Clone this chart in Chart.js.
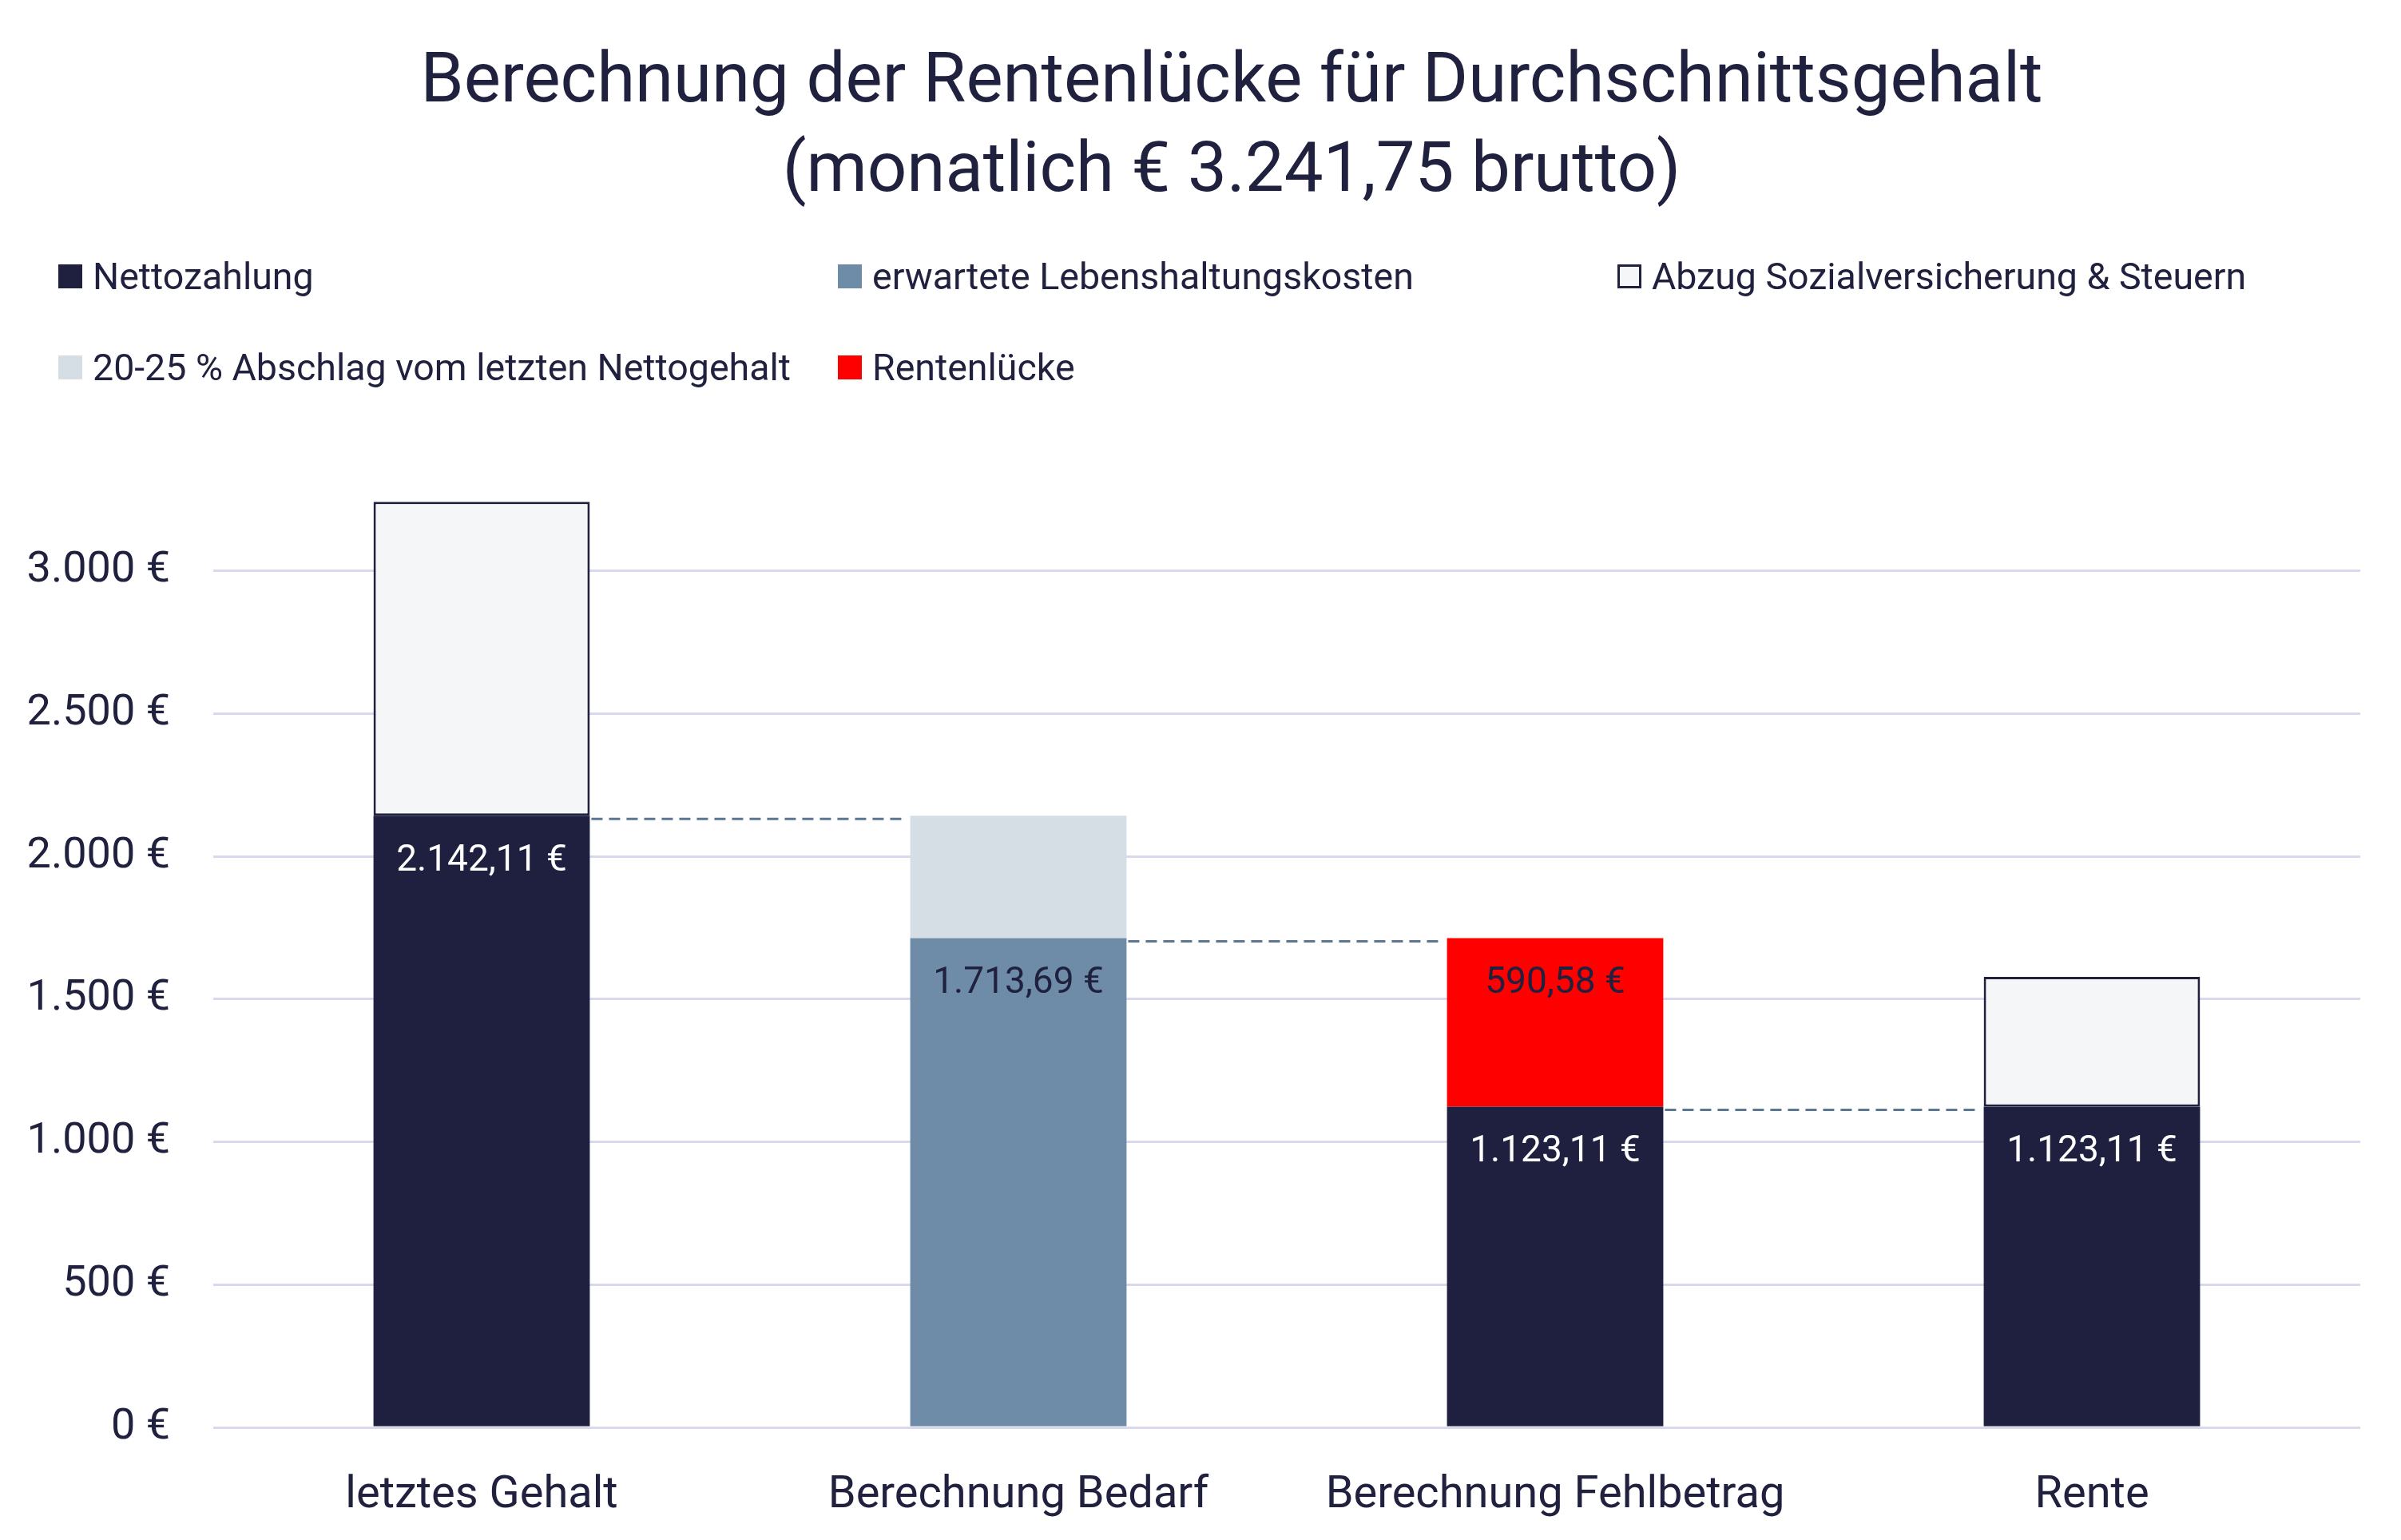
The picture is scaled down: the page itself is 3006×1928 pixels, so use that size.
<!DOCTYPE html>
<html lang="de">
<head>
<meta charset="utf-8">
<script src="https://cdn.jsdelivr.net/npm/chart.js@4/dist/chart.umd.min.js"></script>
<style>
  html, body { margin: 0; padding: 0; background: #ffffff; }
  #wrap { position: relative; width: 3006px; height: 1928px; }
  #title { position: absolute; left: 0; top: 41px; width: 3084px; text-align: center; font-family: Roboto, sans-serif; font-size: 87px; line-height: 112px; color: #20213f; white-space: nowrap; }
  #legend { position: absolute; left: 0; top: 0; width: 3006px; height: 0; font-family: Roboto, sans-serif; font-size: 46.5px; color: #20213f; }
  .item { position: absolute; display: flex; align-items: center; white-space: nowrap; height: 60px; }
  .box { width: 30px; height: 30px; margin-right: 13px; box-sizing: border-box; }
</style>
</head>
<body>
<div id="wrap">
  <canvas id="c"></canvas>
  <div id="title"></div>
  <div id="legend"></div>
</div>
<script>
// ---- data ----
const titleLines = ["Berechnung der Rentenlücke für Durchschnittsgehalt", "(monatlich € 3.241,75 brutto)"];
const categories = ["letztes Gehalt", "Berechnung Bedarf", "Berechnung Fehlbetrag", "Rente"];
const nettozahlung = [2142.11, null, 1123.11, 1123.11];
const lebenshaltungskosten = [null, 1713.69, null, null];
const abzugSozial = [1099.64, null, null, 455];
const abschlag = [null, 428.42, null, null];
const rentenluecke = [null, null, 590.58, null];
const yTicks = [0, 500, 1000, 1500, 2000, 2500, 3000];
const seriesNames = ["Nettozahlung", "erwartete Lebenshaltungskosten", "Abzug Sozialversicherung & Steuern", "20-25 % Abschlag vom letzten Nettogehalt", "Rentenlücke"];

const C_DARK = "#1f2040", C_BLUE = "#6e8ba7", C_WHITE = "#f5f6f8", C_LIGHT = "#d6dee5", C_RED = "#ff0000";
const TXT = "#20213f";

function fmtEuro(v) {
  return v.toLocaleString("de-DE", { minimumFractionDigits: 2, maximumFractionDigits: 2 }) + " €";
}
function fmtTick(v) {
  return v.toLocaleString("de-DE") + " €";
}

// labels shown inside segments: dataset index -> text colour
const labelColors = { 0: "#ffffff", 1: TXT, 4: TXT };

const segLabelPlugin = {
  id: "segLabels",
  afterDatasetsDraw(chart) {
    const ctx = chart.ctx;
    ctx.save();
    ctx.font = "46px Roboto";
    ctx.textAlign = "center";
    ctx.textBaseline = "middle";
    Object.keys(labelColors).forEach(k => {
      const di = +k;
      const meta = chart.getDatasetMeta(di);
      const data = chart.data.datasets[di].data;
      meta.data.forEach((el, i) => {
        if (data[i] == null) return;
        ctx.fillStyle = labelColors[di];
        ctx.fillText(fmtEuro(data[i]), el.x, el.y + 57);
      });
    });
    ctx.restore();
  }
};

// dashed connectors from the top of each bar's base segment to the next bar
const connectorPlugin = {
  id: "connectors",
  afterDatasetsDraw(chart) {
    const ctx = chart.ctx;
    const baseSets = [0, 1];
    const n = chart.data.labels.length;
    ctx.save();
    ctx.strokeStyle = "#5b7794";
    ctx.lineWidth = 3;
    ctx.setLineDash([14, 8]);
    for (let i = 0; i < n - 1; i++) {
      let el = null;
      for (const d of baseSets) {
        if (chart.data.datasets[d].data[i] != null) { el = chart.getDatasetMeta(d).data[i]; break; }
      }
      const nextEl = chart.getDatasetMeta(0).data[i + 1];
      if (!el || !nextEl) continue;
      const x1 = el.x + el.width / 2 + 2;
      const x2 = nextEl.x - nextEl.width / 2 - 8;
      const y = el.y + 4;
      ctx.beginPath();
      ctx.moveTo(x1, y);
      ctx.lineTo(x2, y);
      ctx.stroke();
    }
    ctx.restore();
  }
};

const colors = [C_DARK, C_BLUE, C_WHITE, C_LIGHT, C_RED];
const seriesData = [nettozahlung, lebenshaltungskosten, abzugSozial, abschlag, rentenluecke];

const datasets = seriesData.map((d, i) => ({
  label: seriesNames[i],
  data: d,
  backgroundColor: colors[i],
  borderColor: i === 2 ? TXT : colors[i],
  borderWidth: i === 2 ? 3 : 0,
  borderSkipped: false,
  barPercentage: 0.403,
  categoryPercentage: 1.0
}));

Chart.defaults.font.family = "Roboto";
Chart.defaults.color = TXT;

new Chart(document.getElementById("c"), {
  type: "bar",
  data: { labels: categories, datasets },
  plugins: [connectorPlugin, segLabelPlugin],
  options: {
    responsive: true,
    maintainAspectRatio: false,
    animation: false,
    layout: { padding: { left: 0, right: 51, top: 536, bottom: 0 } },
    plugins: {
      legend: { display: false },
      tooltip: { enabled: false },
      title: { display: false }
    },
    scales: {
      x: {
        stacked: true,
        grid: { display: false },
        border: { display: false },
        afterFit: axis => { axis.height = 141; },
        ticks: { font: { size: 56 }, color: TXT, padding: 44, maxRotation: 0 }
      },
      y: {
        stacked: true,
        min: 0,
        max: 3500,
        afterBuildTicks: axis => { axis.ticks = yTicks.map(v => ({ value: v })); },
        afterFit: axis => { axis.width = 267; },
        grid: { color: "#d9d9ee", lineWidth: 3, drawTicks: false },
        border: { display: false },
        ticks: { font: { size: 54 }, color: TXT, padding: 54, callback: v => fmtTick(v) }
      }
    }
  }
});

// HTML title
const titleEl = document.getElementById("title");
titleLines.forEach(line => {
  const d = document.createElement("div");
  d.textContent = line;
  titleEl.appendChild(d);
});

// HTML legend laid out in three columns like the reference
const legendPos = [[73, 316], [1049, 316], [2025, 316], [73, 430], [1049, 430]];
const legend = document.getElementById("legend");
seriesNames.forEach((name, i) => {
  const item = document.createElement("div");
  item.className = "item";
  item.style.left = legendPos[i][0] + "px";
  item.style.top = legendPos[i][1] + "px";
  const box = document.createElement("span");
  box.className = "box";
  box.style.background = colors[i];
  if (i === 2) box.style.border = "3px solid " + TXT;
  const t = document.createElement("span");
  t.textContent = name;
  item.appendChild(box);
  item.appendChild(t);
  legend.appendChild(item);
});
</script>
</body>
</html>
